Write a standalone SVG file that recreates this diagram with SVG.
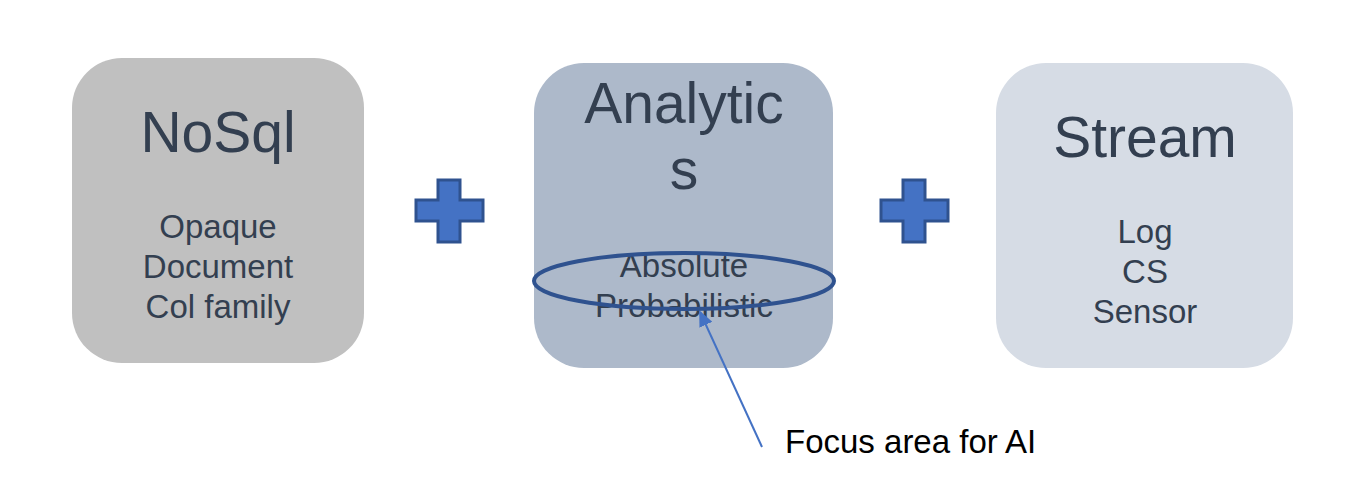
<svg xmlns="http://www.w3.org/2000/svg" width="1353" height="494" viewBox="0 0 1353 494">
<style>
text{font-family:"Liberation Sans",Arial,sans-serif;fill:#333f50;text-anchor:middle}
.t{font-size:57px}
.s{font-size:33px}
.plus{fill:#4472c4;stroke:#2f528f;stroke-width:3}
</style>
<defs>
<marker id="ah" markerWidth="16" markerHeight="14" refX="14" refY="7" orient="auto" markerUnits="userSpaceOnUse" viewBox="0 0 16 14">
<path d="M0,0 L16,7 L0,14 z" fill="#4472c4"/>
</marker>
</defs>
<rect width="1353" height="494" fill="#fff"/>
<g id="nosql">
<rect x="72" y="58" width="292" height="305" rx="50" fill="#c0c0c0"/>
<text class="t" x="218" y="152">NoSql</text>
<text class="s" x="218" y="238">Opaque</text>
<text class="s" x="218" y="278">Document</text>
<text class="s" x="218" y="318">Col family</text>
</g>
<g id="plus1"><path class="plus" d="M438,180 H460 V200 H483 V221 H460 V242 H438 V221 H416 V200 H438 Z"/></g>
<g id="analytics">
<rect x="534" y="63" width="299" height="305" rx="50" fill="#adb9ca"/>
<text class="t" x="684" y="123">Analytic</text>
<text class="t" x="684" y="189">s</text>
<text class="s" x="684" y="277">Absolute</text>
<text class="s" x="684" y="317">Probabilistic</text>
</g>
<g id="plus2"><path class="plus" d="M903,180 H925 V200 H948 V221 H925 V242 H903 V221 H881 V200 H903 Z"/></g>
<g id="stream">
<rect x="996" y="63" width="297" height="305" rx="50" fill="#d6dce5"/>
<text class="t" x="1145" y="157">Stream</text>
<text class="s" x="1145" y="243">Log</text>
<text class="s" x="1145" y="283">CS</text>
<text class="s" x="1145" y="323">Sensor</text>
</g>
<g id="focus">
<ellipse cx="684" cy="281" rx="150" ry="28" fill="none" stroke="#2f528f" stroke-width="4"/>
</g>
<g id="connectors">
<line x1="762" y1="447" x2="700" y2="312" stroke="#4472c4" stroke-width="2" marker-end="url(#ah)"/>
</g>
<g id="label">
<text x="785" y="453" style="font-size:33px;fill:#000;text-anchor:start">Focus area for AI</text>
</g>
</svg>
